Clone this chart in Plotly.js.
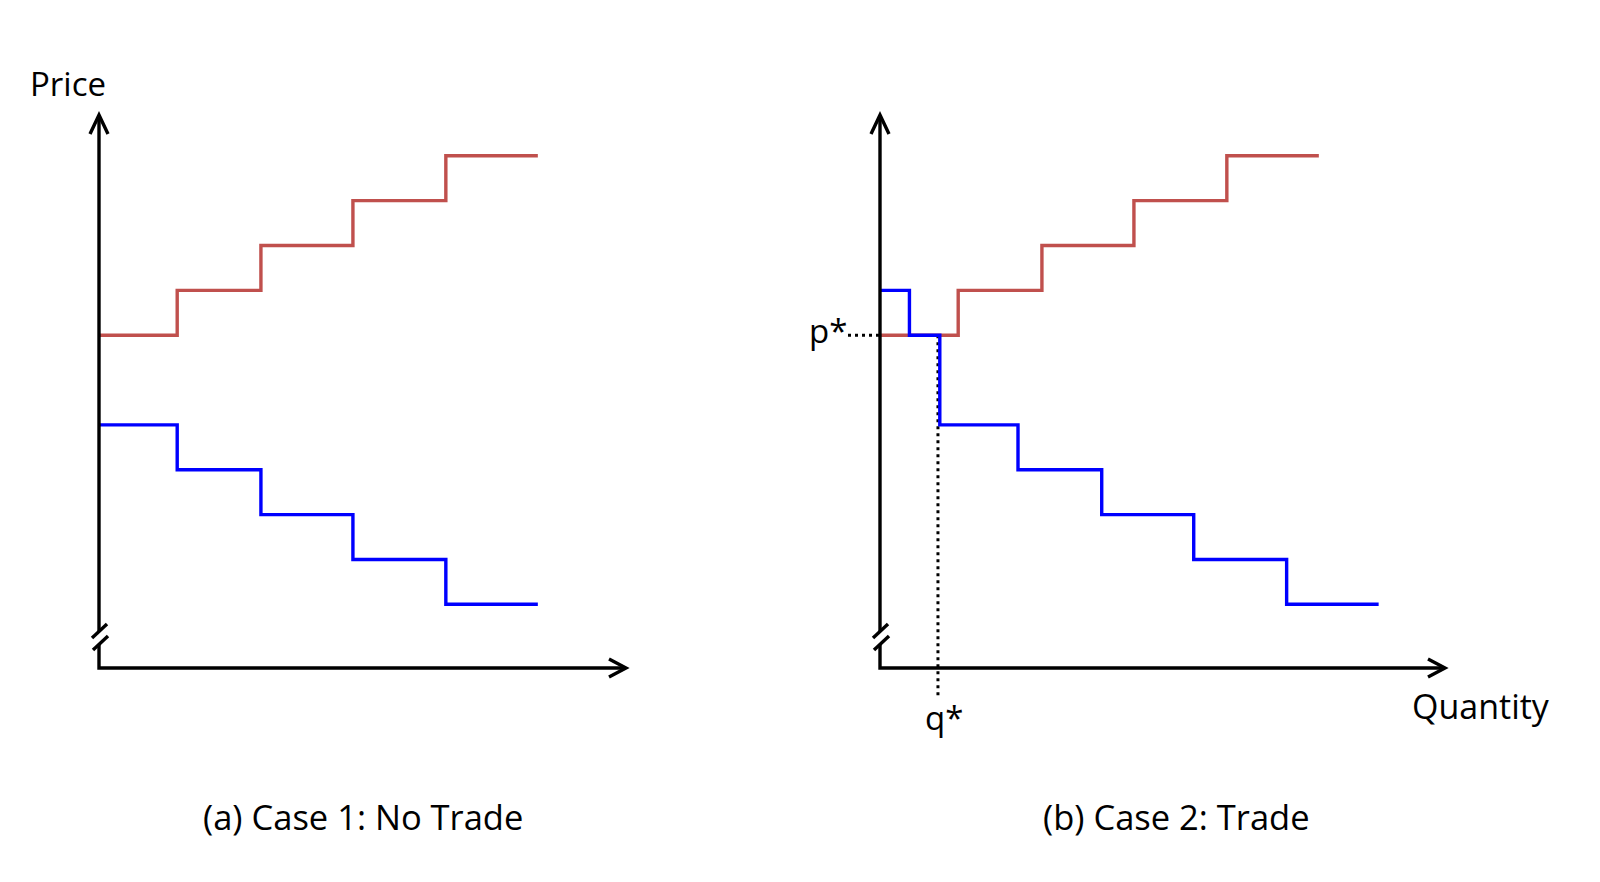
<!DOCTYPE html>
<html>
<head>
<meta charset="utf-8">
<script src="https://cdn.plot.ly/plotly-3.0.1.min.js"></script>
<style>html,body{margin:0;padding:0;background:#fff;}#chart{width:1600px;height:882px;}</style>
</head>
<body>
<div id="chart"></div>
<script>
// ---------- DATA ----------
// Quantity step edges (left panel, both curves; right panel supply)
const supplyQ = [0, 0.85, 1.76, 2.76, 3.77, 4.77];
const supplyP = [8, 9, 10, 11, 12, 12];
const demandQ_case1 = [0, 0.85, 1.76, 2.76, 3.77, 4.77];
const demandP_case1 = [6, 5, 4, 3, 2, 2];
// Case 2 (trade)
const demandQ_case2 = [0, 0.32, 0.65, 1.50, 2.41, 3.41, 4.42, 5.42];
const demandP_case2 = [9, 8, 6, 5, 4, 3, 2, 2];
const pStar = 8;
const qStar = 0.63;
const captions = ["(a) Case 1: No Trade", "(b) Case 2: Trade"];
const axisLabels = {price: "Price", quantity: "Quantity", p: "p*", q: "q*"};

// ---------- LAYOUT GEOMETRY ----------
const W = 1600, H = 882;
const UX = 92, UY = 44.85;          // pixels per unit
const ORIGIN_PY = 668, P_AT_ORIGIN = 0.58;
const LEFT_OX = 99, RIGHT_OX = 880;
const DOM_Y = [760, 90];            // pixel bottom, top
const DOM_L = [40, 680], DOM_R = [760, 1480];

const pFromPx = py => P_AT_ORIGIN + (ORIGIN_PY - py) / UY;
const qFromPx = (px, ox) => (px - ox) / UX;

const RED = '#C0504D', BLUE = '#0000FF';
const LW = 3.4;

const traces = [
  {x: supplyQ, y: supplyP, xaxis: 'x', yaxis: 'y', mode: 'lines', line: {shape: 'hv', color: RED, width: LW}, hoverinfo: 'skip'},
  {x: demandQ_case1, y: demandP_case1, xaxis: 'x', yaxis: 'y', mode: 'lines', line: {shape: 'hv', color: BLUE, width: LW}, hoverinfo: 'skip'},
  {x: supplyQ, y: supplyP, xaxis: 'x2', yaxis: 'y', mode: 'lines', line: {shape: 'hv', color: RED, width: LW}, hoverinfo: 'skip'},
  {x: demandQ_case2, y: demandP_case2, xaxis: 'x2', yaxis: 'y', mode: 'lines', line: {shape: 'hv', color: BLUE, width: LW}, hoverinfo: 'skip'}
];

// ---------- axis decorations (arrows, breaks) ----------
function panelShapes(xref, ox, xEndPx) {
  const p = pFromPx;
  const q = px => qFromPx(px, ox);
  const base = {xref: xref, yref: 'y', line: {color: '#000', width: 3.4}, layer: 'above'};
  // points given as pixel offsets relative to the panel origin x
  const P = pts => 'M ' + pts.map(a => q(a[0] + ox) + ',' + p(a[1])).join(' L ');
  const e = xEndPx - ox;
  return [
    Object.assign({type: 'path', path: P([[0, 115], [0, 631]])}, base),
    Object.assign({type: 'path', path: P([[-9, 134], [0, 115], [9, 134]])}, base),
    Object.assign({type: 'path', path: P([[0, 644], [0, 668], [e, 668]])}, base),
    Object.assign({type: 'path', path: P([[e - 17, 659], [e, 668], [e - 17, 677]])}, base),
    Object.assign({type: 'path', path: P([[-7, 638], [8, 624]])}, base),
    Object.assign({type: 'path', path: P([[-6, 650], [9, 636]])}, base)
  ];
}

const dotted = {color: '#000', width: 3, dash: '3px,4px'};
const shapes = [].concat(
  panelShapes('x', LEFT_OX, 626),
  panelShapes('x2', RIGHT_OX, 1445),
  [
    {type: 'line', xref: 'x2', yref: 'y', x0: qFromPx(848, RIGHT_OX), x1: 0, y0: pStar, y1: pStar, line: dotted, layer: 'below'},
    {type: 'line', xref: 'x2', yref: 'y', x0: qStar, x1: qStar, y0: pStar, y1: pFromPx(698), line: dotted, layer: 'below'}
  ]
);

const FONT = 'Open Sans, Noto Sans, sans-serif';
const ann = (text, px, py, size, xanchor) => ({
  text: text, xref: 'paper', yref: 'paper', x: px / W, y: 1 - py / H,
  xanchor: xanchor || 'center', yanchor: 'middle', showarrow: false,
  font: {family: FONT, size: size, color: '#000'}
});

const annotations = [
  ann(axisLabels.price, 68, 83, 33),
  ann(axisLabels.quantity, 1481, 706, 34),
  ann(axisLabels.p, 849, 330, 33, 'right'),
  ann(axisLabels.q, 944, 717, 33),
  ann(captions[0], 363, 816, 34.5),
  ann(captions[1], 1176, 816, 34.5)
];

const hiddenAxis = {showgrid: false, zeroline: false, showline: false, showticklabels: false, ticks: '', fixedrange: true};

const layout = {
  width: W, height: H,
  margin: {l: 0, r: 0, t: 0, b: 0, pad: 0},
  paper_bgcolor: '#fff', plot_bgcolor: 'rgba(0,0,0,0)',
  showlegend: false,
  xaxis: Object.assign({domain: [DOM_L[0] / W, DOM_L[1] / W], range: [qFromPx(DOM_L[0], LEFT_OX), qFromPx(DOM_L[1], LEFT_OX)], anchor: 'y'}, hiddenAxis),
  xaxis2: Object.assign({domain: [DOM_R[0] / W, DOM_R[1] / W], range: [qFromPx(DOM_R[0], RIGHT_OX), qFromPx(DOM_R[1], RIGHT_OX)], anchor: 'y'}, hiddenAxis),
  yaxis: Object.assign({domain: [1 - DOM_Y[0] / H, 1 - DOM_Y[1] / H], range: [pFromPx(DOM_Y[0]), pFromPx(DOM_Y[1])], anchor: 'x'}, hiddenAxis),
  shapes: shapes,
  annotations: annotations
};

Plotly.newPlot('chart', traces, layout, {displayModeBar: false, staticPlot: true});
</script>
</body>
</html>
